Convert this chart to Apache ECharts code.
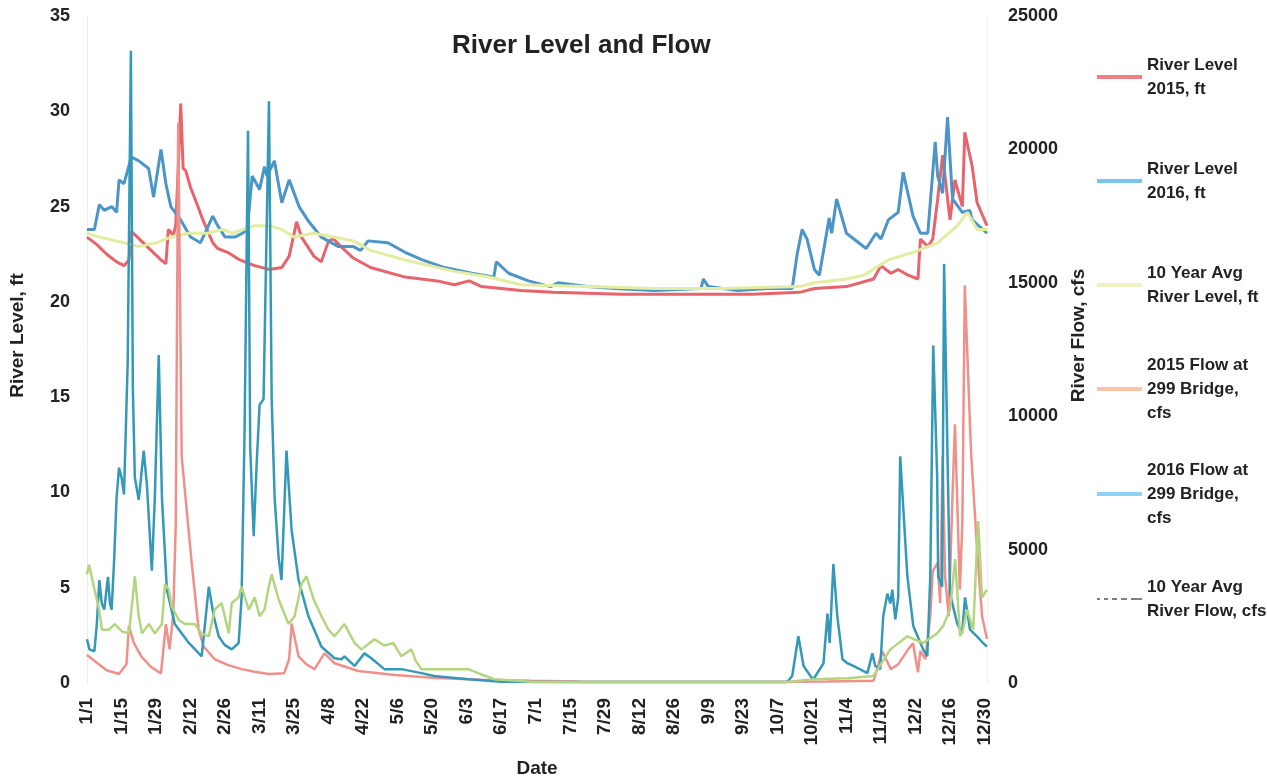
<!DOCTYPE html>
<html>
<head>
<meta charset="utf-8">
<script src="https://cdn.jsdelivr.net/npm/echarts@6/dist/echarts.min.js"></script>
<style>
html,body{margin:0;padding:0;background:#fff;}
#chart{width:1267px;height:783px;}
</style>
</head>
<body>
<div id="chart"></div>
<script>
// ---- DATA (day index from 1/1/2016) ----
const level2015Days = [0,4,8,12,15,17,18,22,26,30,32,33,35,36,37,38,39,40,42,45,47,51,53,57,62,68,74,79,82,85,87,92,95,98,100,103,108,115,129,142,149,155,160,176,189,217,244,270,289,295,308,319,322,326,329,333,337,338,341,343,345,347,350,352,355,356,359,361,365];
const level2015 = [23.4,23.0,22.5,22.1,21.9,22.2,23.7,23.2,22.7,22.2,22.0,23.8,23.5,24.0,27.0,30.4,27.0,26.9,26.0,25.0,24.3,23.1,22.8,22.6,22.2,21.9,21.7,21.8,22.4,24.2,23.4,22.4,22.1,23.2,23.3,22.9,22.3,21.8,21.3,21.1,20.9,21.1,20.8,20.6,20.5,20.4,20.4,20.4,20.5,20.7,20.8,21.2,21.9,21.5,21.7,21.4,21.2,23.3,22.9,23.3,25.4,27.7,24.3,26.4,25.0,28.9,27.1,25.2,24.0];

const level2016Days = [0,3,5,7,10,12,13,15,18,21,25,27,30,32,34,38,42,46,51,53,56,60,63,65,67,70,72,73,76,79,82,86,90,95,102,108,111,114,122,129,136,145,156,165,166,171,179,188,191,203,214,230,249,250,252,264,276,286,288,290,292,295,297,301,302,304,308,316,320,322,325,329,331,335,338,341,344,345,347,349,351,355,358,359,365];
const level2016 = [23.8,23.8,25.1,24.8,25.0,24.7,26.4,26.2,27.6,27.4,27.0,25.5,28.0,26.2,25.0,24.3,23.4,23.1,24.5,24.0,23.4,23.4,23.6,23.8,26.6,25.9,27.1,26.6,27.4,25.2,26.4,25.0,24.2,23.4,22.9,22.9,22.7,23.2,23.1,22.6,22.2,21.8,21.5,21.3,22.1,21.5,21.1,20.8,21.0,20.8,20.7,20.6,20.7,21.2,20.8,20.6,20.7,20.7,22.5,23.8,23.3,21.7,21.4,24.4,23.6,25.4,23.6,22.8,23.6,23.3,24.3,24.7,26.8,24.5,23.6,23.6,28.4,26.6,25.7,29.7,25.4,24.7,24.8,24.3,23.6];

const avgLevelDays = [0,5,15,21,28,34,41,49,55,59,68,74,79,84,92,100,108,115,129,149,163,176,203,230,257,289,295,308,315,325,335,345,353,357,361,365];
const avgLevel = [23.6,23.4,23.1,22.9,23.1,23.4,23.6,23.6,23.8,23.6,24.0,24.0,23.8,23.4,23.6,23.4,23.2,22.7,22.2,21.6,21.3,20.9,20.8,20.7,20.7,20.8,21.0,21.2,21.4,22.2,22.6,23.1,24.0,24.7,23.8,23.8];

const flow2015Days = [0,4,8,13,16,17,19,22,26,30,32,33.5,35,36,37,38.4,39.7,42.5,45.3,47.3,51.8,57,62.7,68,73.7,80,82,83,85.8,89,92.3,96.3,100.4,110,125,140,160,180,200,240,280,300,319,322.5,326,329,333,335,337,338,340,342,343,345,346,347,348,349.5,351,352,354,355,356,357,358.5,361,363,365];
const flow2015 = [1050,760,480,335,700,2140,1500,1000,600,360,2200,1260,2600,6000,21000,8500,7200,4460,2000,1370,890,680,520,420,335,370,900,2230,1000,700,520,1110,740,450,300,200,120,80,60,50,50,60,80,1190,520,700,1260,1490,400,1200,900,2500,4200,4500,3000,8500,4000,2500,7000,9700,3500,6000,14900,12400,8700,5000,2500,1650];

const flow2016Days = [0,1,3,4,5,6,7,8.5,9.3,10,11,12,13,14,15,16.5,17.8,18.6,19.4,21,23,24.3,26.3,27.5,29.1,30.4,32.4,35.6,41.3,46.5,49.4,51.4,53.4,55.8,58.7,61.5,62.7,63.9,65.3,66.2,67.6,68.8,70,71.6,73.8,74.9,76.1,77.7,78.9,80.9,83,85.8,89.8,95.1,100.4,103.2,104.4,108.5,112.5,115.3,120.6,127.5,135.6,140.8,154.6,168,200,250,284,286,288.5,290.6,293.4,294.6,298.7,300.3,301.2,302.7,304.3,306.4,308.4,310.8,316.5,318.5,319.7,321.7,322.9,324.6,325.8,326.6,327.8,329,329.8,332.7,335.1,339.1,340.8,342,343.2,344.8,345.2,346.8,347.6,350,352.9,354.9,356.1,358.1,360.9,363.4,365];
const flow2016 = [1640,1260,1190,2230,3860,2980,2750,3980,2980,2750,4610,6960,8070,7700,7070,12000,23700,11000,7700,6860,8710,7430,4210,6930,12290,6930,3500,2210,1500,1000,3610,2500,1750,1430,1260,1500,3210,9430,20700,8800,5500,8210,10430,10640,21800,10640,6930,4710,3860,8710,5710,3860,2500,1360,930,890,1000,640,1110,930,520,520,370,260,140,50,40,40,40,260,1750,640,260,140,740,2600,1500,4460,2500,890,740,640,370,1110,640,520,2500,3350,2980,3500,2380,3210,8500,4000,2140,1260,1000,4000,12650,7710,4000,3610,15700,3350,2230,1860,3210,2000,1750,1500,1360];

const avgFlowDays = [0,0.8,2.8,4.9,6.1,8.9,11.3,14.2,17,19,19.4,21,22.3,25.1,27.5,30.4,31.6,33.2,34.4,37.2,39.7,43.7,46.5,49.4,51.8,54.6,57.5,58.7,61.5,62.7,65.6,68,70,72,73.7,74.9,77.7,81.7,84.2,87,89,91.9,95.1,97.9,100.4,104.4,108.5,111.3,116.6,120.6,124.2,127.5,131.5,133.5,135.6,140.8,154.6,158.6,165.1,181.3,284,294.6,308.4,318.9,325.8,332.7,339.1,344.8,347.2,350,352.1,354.1,355.3,356.9,359.4,361.4,363,365];
const avgFlow = [4070,4430,3610,2750,2000,2000,2210,1930,1860,3610,4000,2500,1860,2210,1860,2210,3710,3500,2860,2360,2210,2210,1860,1750,2750,3000,1860,3000,3210,3610,2750,3210,2500,2750,3610,4070,3140,2210,2500,3710,4000,3140,2500,2000,1750,2210,1500,1260,1640,1400,1500,1000,1260,800,520,520,520,370,140,40,40,140,180,260,1260,1750,1500,1860,2140,2750,4640,1750,2000,2750,2000,6070,3210,3500];

const seriesNames = ['River Level 2015, ft','River Level 2016, ft','10 Year Avg River Level, ft','2015 Flow at 299 Bridge, cfs','2016 Flow at 299 Bridge, cfs','10 Year Avg River Flow, cfs'];
const legendLabels = ['River Level\n2015, ft','River Level\n2016, ft','10 Year Avg\nRiver Level, ft','2015 Flow at\n299 Bridge,\ncfs','2016 Flow at\n299 Bridge,\ncfs','10 Year Avg\nRiver Flow, cfs'];

// ---- BUILD ----
function zip(d, v){ return d.map((x,i)=>[x, v[i]]); }
const FONT = "'Liberation Sans',Arial,sans-serif";
const TXT = '#222';

const colors = ['#e8636b','#4b95c8','#e3eda2','#f0908a','#3499b9','#b4d57f'];
const legendColors = ['#ee7f85','#7cc4ee','#eef3c4','#f8c2ae','#8fd1f2','#555'];
const widths = [3,3,3,2.5,2.5,2.5];
const datasets = [
  zip(level2015Days, level2015), zip(level2016Days, level2016), zip(avgLevelDays, avgLevel),
  zip(flow2015Days, flow2015), zip(flow2016Days, flow2016), zip(avgFlowDays, avgFlow)
];

const SOLID_ICON = 'path://M0,0L45,0L45,4L0,4Z';
const DASH_ICON = 'path://M0,0L3,0L3,1.6L0,1.6Z M7,0L11,0L11,1.6L7,1.6Z M15,0L20,0L20,1.6L15,1.6Z M24,0L30,0L30,1.6L24,1.6Z M34,0L45,0L45,1.6L34,1.6Z';

const iconCenters = [77,181,285,389,494,599];
const legends = seriesNames.map((n,i)=>{
  const lines = legendLabels[i].split('\n').length;
  const lh = 24;
  const half = (lines*lh + (lines-1)*lh)/2;
  return {
    orient:'vertical', left:1097, top: iconCenters[i] - 7 - (half - 7),
    padding:0, itemWidth:45, itemHeight:14,
    selectedMode:false,
    formatter: ()=>legendLabels[i],
    data:[{name:n, icon: i===5 ? DASH_ICON : SOLID_ICON, itemStyle:{color:legendColors[i]}}],
    textStyle:{fontFamily:FONT, fontSize:17, fontWeight:'bold', color:TXT, lineHeight:lh, padding:[(lines-1)*lh,0,0,0]}
  };
});

const series = seriesNames.map((n,i)=>({
  name:n, type:'line', yAxisIndex: i<3?0:1,
  data: datasets[i], symbol:'none', showSymbol:false, smooth:false,
  lineStyle:{color:colors[i], width:widths[i]}, itemStyle:{color:colors[i]},
  emphasis:{disabled:true}, animation:false
}));

const chart = echarts.init(document.getElementById('chart'), null, {renderer:'canvas'});
chart.setOption({
  animation:false,
  backgroundColor:'#fff',
  title:{text:'River Level and Flow', left:447, top:28,
    textStyle:{fontFamily:FONT, fontSize:26, fontWeight:'bold', color:'#222'}},
  legend: legends,
  grid:{left:85, right:280, top:16, bottom:96, containLabel:false},
  xAxis:{type:'value', min:0, max:365, interval:14,
    name:'Date', nameLocation:'middle', nameGap:76,
    nameTextStyle:{fontFamily:FONT, fontSize:19, fontWeight:'bold', color:TXT, verticalAlign:'top'},
    axisLine:{show:false}, axisTick:{show:false}, splitLine:{show:false},
    axisLabel:{rotate:90, margin:15, showMaxLabel:false, fontFamily:FONT, fontSize:19, fontWeight:'bold', color:TXT,
      formatter:(v)=>{const d=new Date(2016,0,1+v); return (d.getMonth()+1)+'/'+d.getDate();}}
  },
  yAxis:[
    {type:'value', min:0, max:35, interval:5, position:'left',
     name:'River Level, ft', nameLocation:'middle', nameGap:60,
     nameTextStyle:{fontFamily:FONT, fontSize:19, fontWeight:'bold', color:TXT, padding:[0,0,0,28]},
     axisLine:{show:true, lineStyle:{color:'#ececec', width:1}}, axisTick:{show:false}, splitLine:{show:false},
     axisLabel:{margin:17, fontFamily:FONT, fontSize:18, fontWeight:'bold', color:TXT, formatter:(v)=>String(v)}},
    {type:'value', min:0, max:25000, interval:5000, position:'right',
     name:'River Flow, cfs', nameLocation:'middle', nameGap:79,
     nameTextStyle:{fontFamily:FONT, fontSize:19, fontWeight:'bold', color:TXT, padding:[0,0,0,28]},
     axisLine:{show:true, lineStyle:{color:'#f0f0f0', width:1}}, axisTick:{show:false}, splitLine:{show:false},
     axisLabel:{margin:21, fontFamily:FONT, fontSize:18, fontWeight:'bold', color:TXT, formatter:(v)=>String(v)}}
  ],
  series: series
});
</script>
</body>
</html>
